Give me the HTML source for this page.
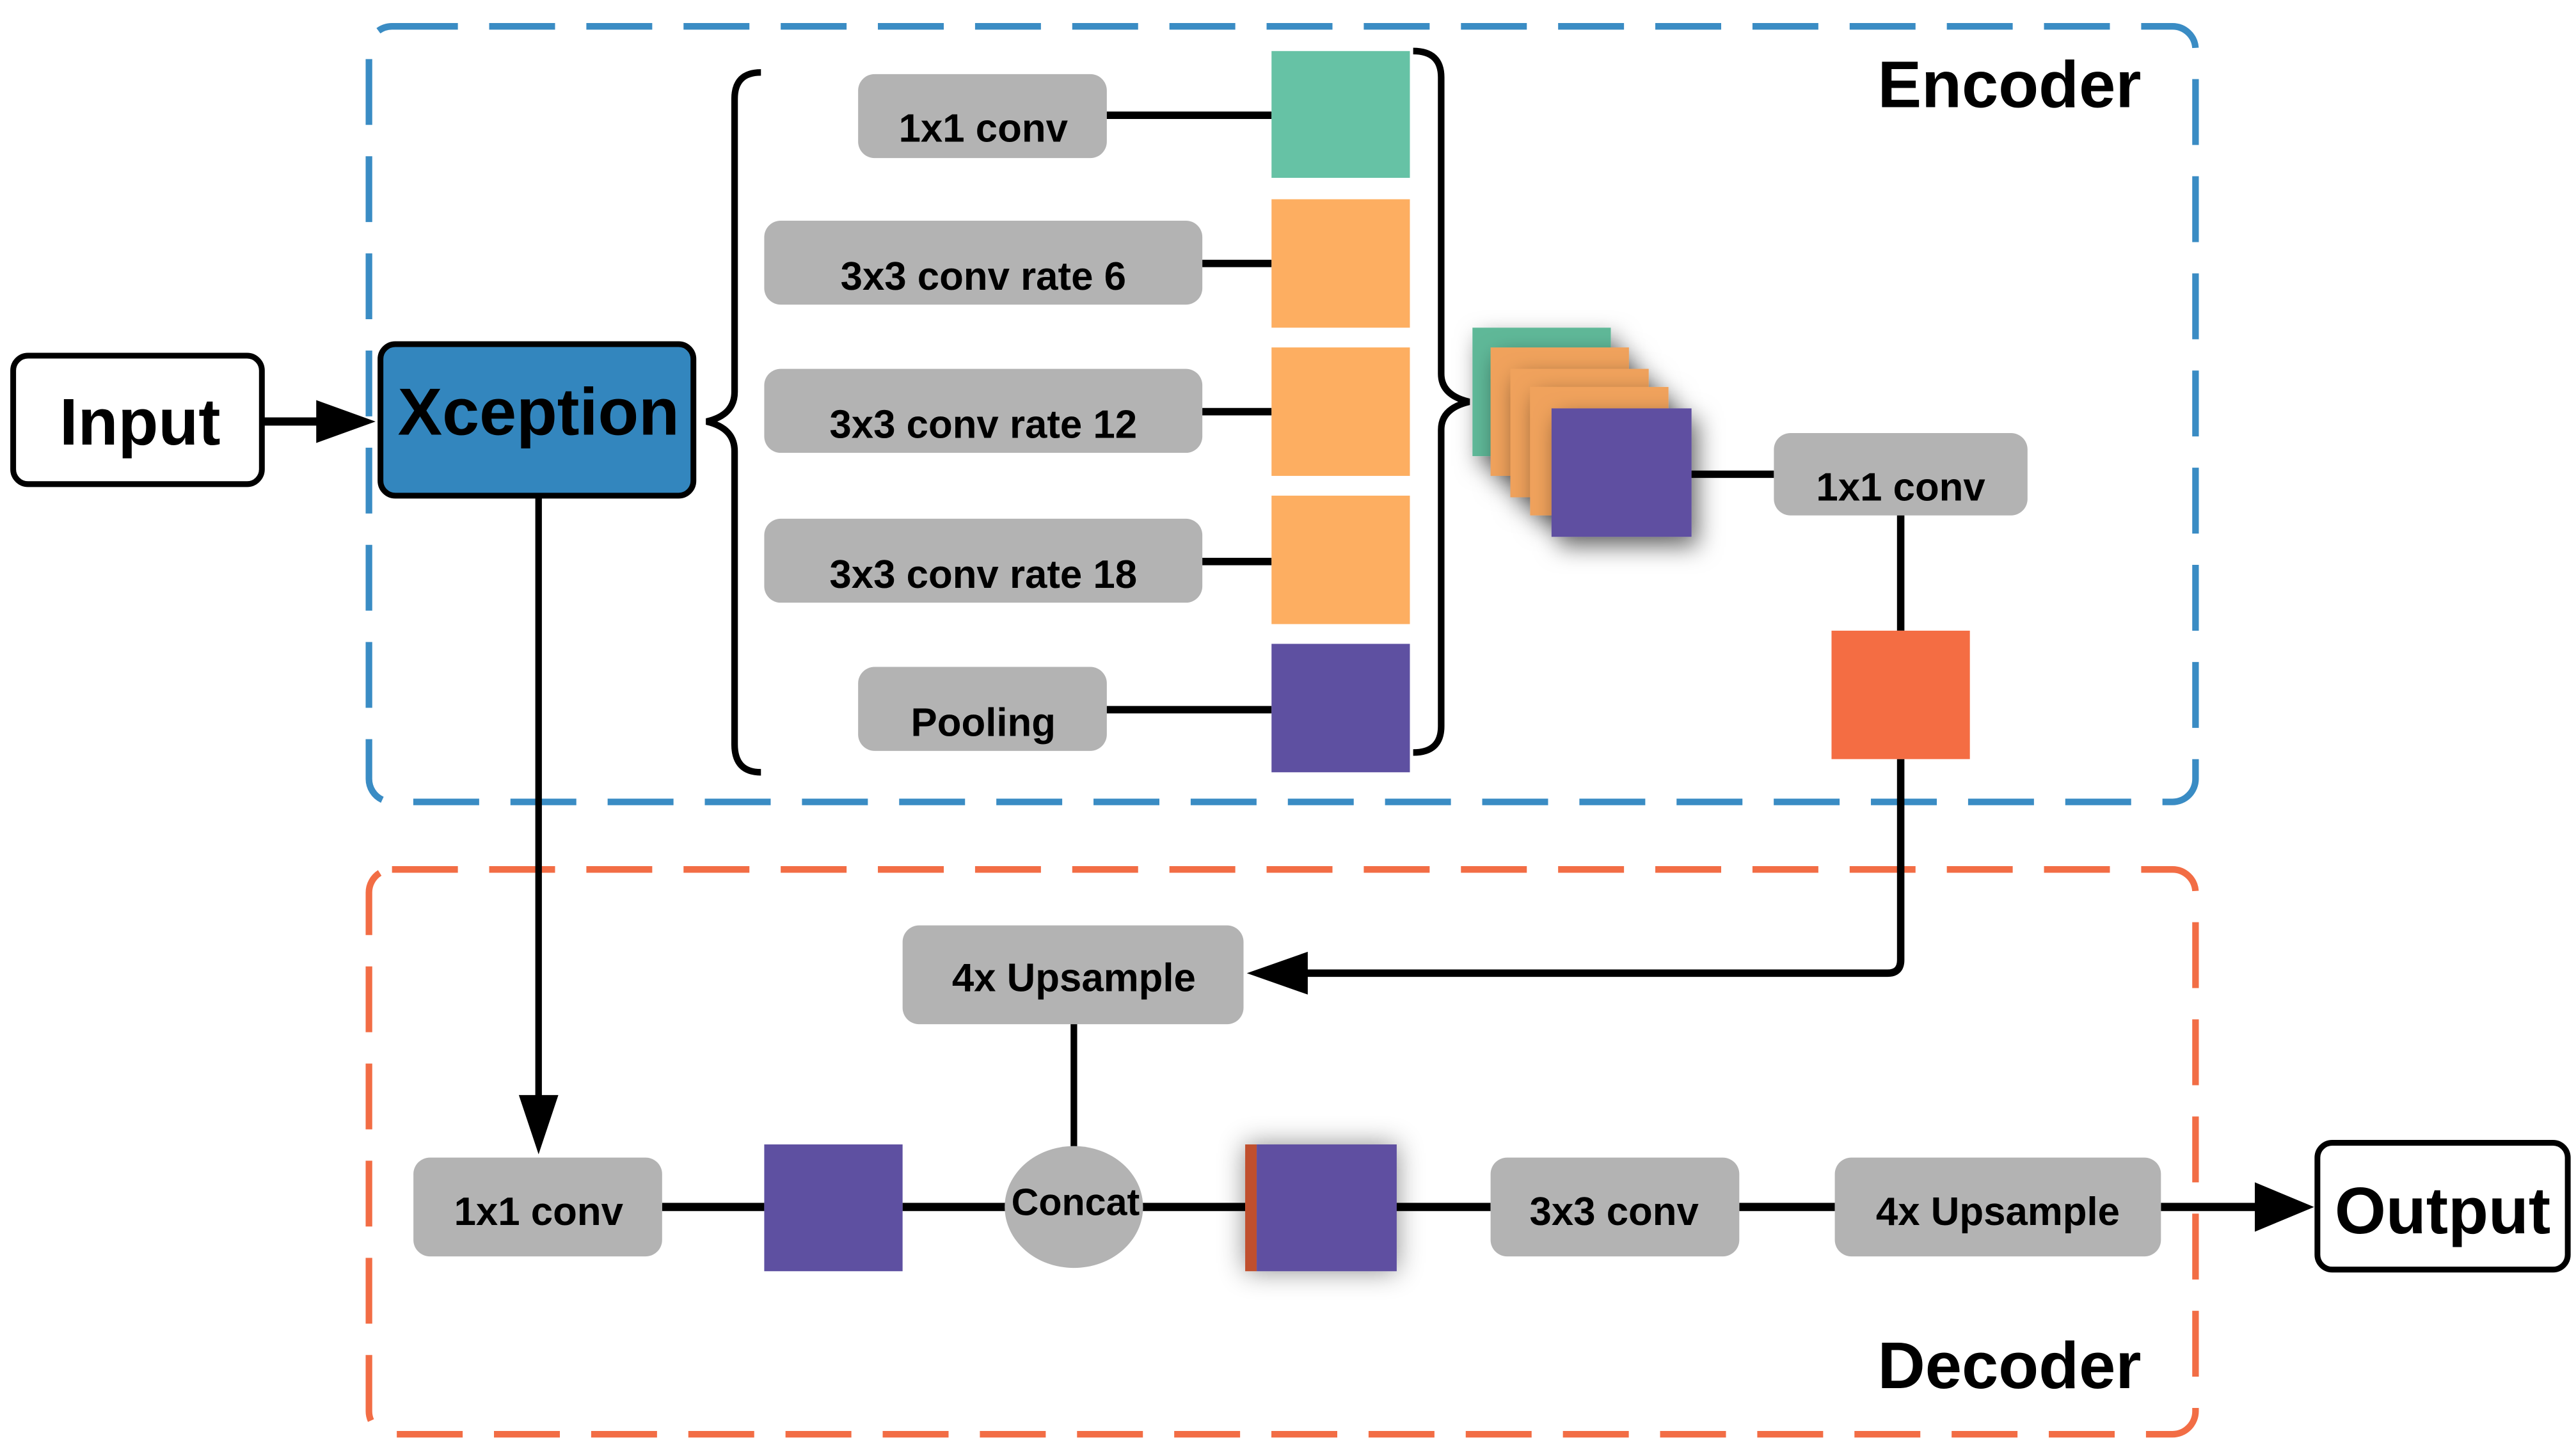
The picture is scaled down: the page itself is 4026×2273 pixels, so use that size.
<!DOCTYPE html>
<html><head><meta charset="utf-8"><style>
html,body{margin:0;padding:0;background:#fff;}
svg{display:block;}
text{font-family:"Liberation Sans",sans-serif;font-weight:bold;fill:#000;}
</style></head><body>
<svg width="4026" height="2273" viewBox="0 0 1564 883" xmlns="http://www.w3.org/2000/svg">
<defs>
<filter id="sh" x="-50%" y="-50%" width="200%" height="200%"><feDropShadow dx="4" dy="6" stdDeviation="7" flood-color="#000" flood-opacity="0.55"/></filter>
<filter id="sh2" x="-50%" y="-50%" width="200%" height="200%"><feDropShadow dx="0" dy="0" stdDeviation="8" flood-color="#000" flood-opacity="0.45"/></filter>
</defs>
<rect x="0" y="0" width="1564" height="883" fill="#fff"/>
<rect x="224" y="16" width="1109" height="471" rx="14" fill="none" stroke="#3a8cc4" stroke-width="4" stroke-dasharray="40 19"/>
<rect x="224" y="528" width="1109" height="343" rx="14" fill="none" stroke="#f26d45" stroke-width="4" stroke-dasharray="40 19"/>
<text x="1300" y="65" font-size="40" text-anchor="end">Encoder</text>
<text x="1300" y="843" font-size="40" text-anchor="end">Decoder</text>

<rect x="8" y="216" width="151" height="78" rx="9" fill="#fff" stroke="#000" stroke-width="3.5"/>
<text x="85" y="270" font-size="40" text-anchor="middle">Input</text>
<line x1="159" y1="256" x2="200" y2="256" stroke="#000" stroke-width="5"/>
<polygon points="192,243 228,256 192,269" fill="#000"/>

<rect x="231" y="209" width="190" height="92" rx="9" fill="#3386be" stroke="#000" stroke-width="3.5"/>
<text x="327" y="264" font-size="40.5" text-anchor="middle">Xception</text>

<path d="M462,44 Q446,44 446,60 L446,238 Q446,252 429,256 Q446,260 446,274 L446,452 Q446,469 462,469" fill="none" stroke="#000" stroke-width="4"/>

<g fill="#b3b3b3">
<rect x="521" y="45" width="151" height="51" rx="10"/>
<rect x="464" y="134" width="266" height="51" rx="10"/>
<rect x="464" y="224" width="266" height="51" rx="10"/>
<rect x="464" y="315" width="266" height="51" rx="10"/>
<rect x="521" y="405" width="151" height="51" rx="10"/>
</g>
<g font-size="24" text-anchor="middle">
<text x="597" y="86">1x1 conv</text>
<text x="597" y="176">3x3 conv rate 6</text>
<text x="597" y="266">3x3 conv rate 12</text>
<text x="597" y="357">3x3 conv rate 18</text>
<text x="597" y="447">Pooling</text>
</g>
<g stroke="#000" stroke-width="4.5">
<line x1="672" y1="70" x2="772" y2="70"/>
<line x1="730" y1="160" x2="772" y2="160"/>
<line x1="730" y1="250" x2="772" y2="250"/>
<line x1="730" y1="341" x2="772" y2="341"/>
<line x1="672" y1="431" x2="772" y2="431"/>
</g>
<rect x="772" y="31" width="84" height="77" fill="#66c2a5"/>
<rect x="772" y="121" width="84" height="78" fill="#fdae61"/>
<rect x="772" y="211" width="84" height="78" fill="#fdae61"/>
<rect x="772" y="301" width="84" height="78" fill="#fdae61"/>
<rect x="772" y="391" width="84" height="78" fill="#5e50a1"/>

<path d="M858,31 Q875,31 875,47 L875,227 Q875,240 892,244 Q875,248 875,261 L875,441 Q875,457 858,457" fill="none" stroke="#000" stroke-width="4"/>

<rect x="894" y="199" width="84" height="78" fill="#5fb898" filter="url(#sh)"/>
<rect x="905" y="211" width="84" height="78" fill="#f0a25c" filter="url(#sh)"/>
<rect x="917" y="224" width="84" height="78" fill="#f0a25c" filter="url(#sh)"/>
<rect x="929" y="235" width="84" height="78" fill="#f0a25c" filter="url(#sh)"/>
<rect x="942" y="248" width="85" height="78" fill="#5e50a1" filter="url(#sh)"/>

<line x1="1027" y1="288" x2="1077" y2="288" stroke="#000" stroke-width="4.5"/>
<rect x="1077" y="263" width="154" height="50" rx="10" fill="#b3b3b3"/>
<text x="1154" y="304" font-size="24" text-anchor="middle">1x1 conv</text>
<line x1="1154" y1="313" x2="1154" y2="383" stroke="#000" stroke-width="4.5"/>
<rect x="1112" y="383" width="84" height="78" fill="#f46d43"/>
<path d="M1154,461 L1154,583 Q1154,591 1146,591 L780,591" fill="none" stroke="#000" stroke-width="4.5"/>
<polygon points="794,578 757,591 794,604" fill="#000"/>

<rect x="548" y="562" width="207" height="60" rx="10" fill="#b3b3b3"/>
<text x="652" y="602" font-size="24" text-anchor="middle">4x Upsample</text>
<line x1="652" y1="622" x2="652" y2="700" stroke="#000" stroke-width="4"/>

<line x1="327" y1="301" x2="327" y2="675" stroke="#000" stroke-width="4"/>
<polygon points="315,665 327,701 339,665" fill="#000"/>

<g stroke="#000" stroke-width="5">
<line x1="402" y1="733" x2="464" y2="733"/>
<line x1="548" y1="733" x2="612" y2="733"/>
<line x1="692" y1="733" x2="756" y2="733"/>
<line x1="847" y1="733" x2="905" y2="733"/>
<line x1="1056" y1="733" x2="1114" y2="733"/>
<line x1="1312" y1="733" x2="1380" y2="733"/>
</g>
<polygon points="1369,718 1405,733 1369,748" fill="#000"/>

<rect x="251" y="703" width="151" height="60" rx="10" fill="#b3b3b3"/>
<text x="327" y="744" font-size="24" text-anchor="middle">1x1 conv</text>
<rect x="464" y="695" width="84" height="77" fill="#5e50a1"/>
<ellipse cx="652" cy="733" rx="42" ry="37" fill="#b3b3b3"/>
<text x="653" y="738" font-size="23" text-anchor="middle">Concat</text>
<g filter="url(#sh2)">
<rect x="756" y="695" width="7" height="77" fill="#c0502e"/>
<rect x="763" y="695" width="85" height="77" fill="#5e50a1"/>
</g>
<rect x="905" y="703" width="151" height="60" rx="10" fill="#b3b3b3"/>
<text x="980" y="744" font-size="24" text-anchor="middle">3x3 conv</text>
<rect x="1114" y="703" width="198" height="60" rx="10" fill="#b3b3b3"/>
<text x="1213" y="744" font-size="24" text-anchor="middle">4x Upsample</text>

<rect x="1407" y="694" width="152" height="77" rx="9" fill="#fff" stroke="#000" stroke-width="3.5"/>
<text x="1483" y="749" font-size="40" text-anchor="middle">Output</text>
</svg>
</body></html>
